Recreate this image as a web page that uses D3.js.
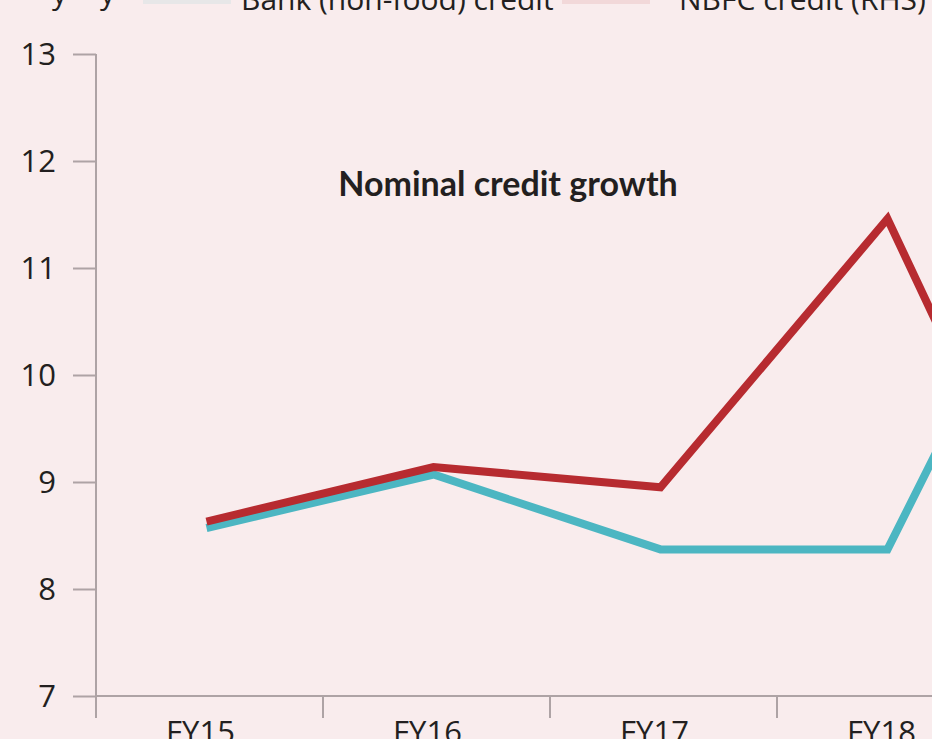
<!DOCTYPE html>
<html>
<head>
<meta charset="utf-8">
<script src="https://cdn.jsdelivr.net/npm/d3@7"></script>
<style>
  html, body { margin: 0; padding: 0; background: #f9eced; }
  svg { display: block; }
</style>
</head>
<body>
<div id="chart"></div>
<script>
// growth, % y-o-y
const years = ['FY15', 'FY16', 'FY17', 'FY18', 'FY19'];
const bankCredit = [8.57, 9.07, 8.37, 8.37, 12.6];
const nbfcCredit = [8.63, 9.14, 8.95, 11.46, 6.95];
const yTicks = [7, 8, 9, 10, 11, 12, 13];

const width = 932, height = 739;
const margin = { left: 96, top: 54, bottom: 696 };

const svg = d3.select('#chart')
    .append('svg')
    .attr('width', width)
    .attr('height', height);

svg.append('rect')
    .attr('width', width)
    .attr('height', height)
    .attr('fill', '#f9eced');

const x = d3.scaleBand()
    .domain(years)
    .range([margin.left, margin.left + 227 * years.length]);

const y = d3.scaleLinear()
    .domain([7, 13])
    .range([margin.bottom, margin.top]);

const axisColor = '#aea3a5';
const textFont = '"Open Sans", "Liberation Sans", Arial, sans-serif';

// y axis ticks
const yAxis = svg.append('g')
    .attr('transform', `translate(${margin.left},0)`)
    .call(d3.axisLeft(y).tickValues(yTicks).tickSize(23).tickFormat(''));
yAxis.select('.domain').remove();
yAxis.selectAll('.tick line').attr('stroke', axisColor).attr('stroke-width', 2);

svg.append('line')
    .attr('x1', margin.left).attr('x2', margin.left)
    .attr('y1', y(13)).attr('y2', y(7) + 18)
    .attr('stroke', axisColor).attr('stroke-width', 2);

svg.append('g')
    .selectAll('text')
    .data(yTicks)
    .join('text')
    .attr('x', 56)
    .attr('y', d => y(d) + 11)
    .attr('text-anchor', 'end')
    .attr('font-family', textFont)
    .attr('font-size', 31)
    .attr('fill', '#231f20')
    .text(d => d);

// x axis
svg.append('line')
    .attr('x1', margin.left).attr('x2', width)
    .attr('y1', y(7)).attr('y2', y(7))
    .attr('stroke', axisColor).attr('stroke-width', 2);

svg.append('g')
    .selectAll('line')
    .data(years)
    .join('line')
    .attr('x1', d => x(d)).attr('x2', d => x(d))
    .attr('y1', y(7)).attr('y2', y(7) + 22)
    .attr('stroke', axisColor).attr('stroke-width', 2);

svg.append('g')
    .selectAll('text')
    .data(years)
    .join('text')
    .attr('x', d => x(d) + x.bandwidth() / 2 - 9)
    .attr('y', 743)
    .attr('text-anchor', 'middle')
    .attr('font-family', textFont)
    .attr('font-size', 31)
    .attr('fill', '#231f20')
    .text(d => d);

// lines
const line = d3.line()
    .x((d, i) => x(years[i]) + x.bandwidth() / 2 - 3)
    .y(d => y(d));

svg.append('path')
    .datum(bankCredit)
    .attr('d', line)
    .attr('fill', 'none')
    .attr('stroke', '#4cb6c2')
    .attr('stroke-width', 8);

svg.append('path')
    .datum(nbfcCredit)
    .attr('d', line)
    .attr('fill', 'none')
    .attr('stroke', '#b72b30')
    .attr('stroke-width', 8);

// title
svg.append('text')
    .attr('x', 508)
    .attr('y', 196)
    .attr('text-anchor', 'middle')
    .attr('font-family', 'Lato, "Open Sans", sans-serif')
    .attr('font-weight', 'bold')
    .attr('font-size', 34)
    .attr('fill', '#231f20')
    .text('Nominal credit growth');

// legend
const legend = [
    { label: 'Bank (non-food) credit', color: '#4cb6c2', sx: 143, tx: 241 },
    { label: 'NBFC credit (RHS)', color: '#b72b30', sx: 562, tx: 679 }
];

svg.append('g')
    .selectAll('rect')
    .data(legend)
    .join('rect')
    .attr('x', d => d.sx)
    .attr('y', -8)
    .attr('width', 88)
    .attr('height', 12)
    .attr('fill', d => d.color)
    .attr('opacity', 0.1);

svg.append('g')
    .selectAll('text')
    .data(legend)
    .join('text')
    .attr('x', d => d.tx)
    .attr('y', 10)
    .attr('font-family', textFont)
    .attr('font-size', 30)
    .attr('fill', '#231f20')
    .text(d => d.label);

svg.append('g')
    .selectAll('text')
    .data([52, 100])
    .join('text')
    .attr('x', d => d)
    .attr('y', 4)
    .attr('font-family', textFont)
    .attr('font-size', 30)
    .attr('fill', '#231f20')
    .text('y');
</script>
</body>
</html>
